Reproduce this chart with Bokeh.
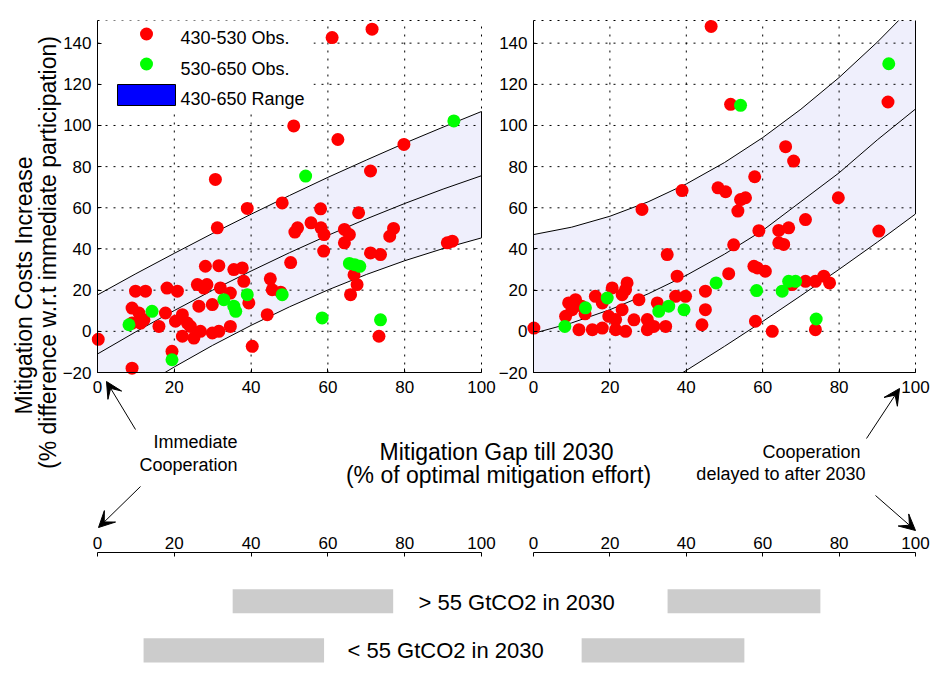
import numpy as np
from bokeh.plotting import figure
from bokeh.models import (Range1d, LinearAxis, FixedTicker, Label, Arrow, VeeHead)
from bokeh.embed import file_html
from bokeh.resources import INLINE

# ---------------- data ----------------
x_ticks = [0, 20, 40, 60, 80, 100]
y_ticks = [-20, 0, 20, 40, 60, 80, 100, 120, 140]
y_bottom, y_top = -20, 151

band_x = [0, 10, 20, 30, 40, 50, 60, 70, 80, 90, 100]
left_upper = [17.7, 28.0, 37.9, 47.6, 56.9, 66.0, 74.8, 83.2, 91.4, 99.2, 106.8]
left_mid = [-11.0, -0.2, 10.1, 20.0, 29.3, 38.2, 46.6, 54.6, 62.1, 69.1, 75.6]
left_lower = [-40.6, -28.5, -17.3, -6.8, 2.9, 11.9, 20.1, 27.6, 34.3, 40.2, 45.4]
right_upper = [47.0, 50.6, 55.9, 62.9, 71.6, 82.0, 94.1, 107.9, 123.3, 140.5, 159.3]
right_mid = [-1.0, 4.1, 10.5, 18.2, 27.2, 37.5, 49.0, 63.0, 77.0, 93.0, 108.0]
right_lower = [-62.0, -51.8, -41.3, -30.3, -19.0, -7.3, 4.8, 17.3, 30.1, 43.3, 57.0]

left_red = [
    (0.2, -3.9), (9.0, -17.9), (19.4, -9.7), (9.0, 4.0), (9.0, 11.3), (10.8, 8.9), (12.1, 5.6), (11.2, 4.0),
    (9.9, 19.5), (12.5, 19.5), (16.0, 2.4), (17.7, 8.9), (20.3, 4.9), (22.1, 8.1), (23.4, 4.0), (24.2, 2.4),
    (22.1, -2.4), (25.1, -3.3), (26.8, 0.0), (29.9, -0.8), (31.6, 0.0), (34.6, 2.4), (18.1, 21.0), (20.8, 19.5),
    (26.0, 22.7), (27.7, 21.0), (28.5, 22.7), (26.4, 12.2), (29.9, 13.0), (28.1, 31.6), (31.6, 31.9), (35.5, 30.0),
    (37.7, 30.8), (38.1, 24.3), (32.0, 21.1), (34.6, 18.6), (39.4, 13.8), (40.3, -7.3), (44.2, 8.1), (45.0, 25.5),
    (45.5, 20.2), (47.7, 19.0), (50.3, 33.4), (48.1, 62.4), (39.0, 59.7), (31.2, 50.3), (30.7, 73.8), (51.1, 99.8),
    (61.1, 142.7), (71.5, 146.8), (62.6, 93.2), (79.8, 90.8), (71.1, 77.9), (58.1, 59.5), (68.0, 57.6), (52.1, 50.3),
    (51.4, 48.2), (55.6, 52.7), (58.2, 50.3), (59.0, 47.0), (64.3, 49.5), (65.6, 47.0), (64.3, 43.0), (76.1, 46.2),
    (77.1, 50.0), (58.9, 39.0), (71.1, 38.1), (73.7, 37.3), (91.1, 43.0), (92.4, 43.8), (66.8, 27.5), (67.6, 22.7),
    (65.9, 17.8), (73.3, -2.4),
]
left_green = [
    (8.2, 3.2), (14.2, 9.7), (19.4, -13.8), (32.9, 15.4), (35.5, 12.2), (36.0, 9.7), (39.0, 17.8), (48.1, 17.8),
    (54.2, 75.4), (58.5, 6.5), (65.6, 33.0), (67.0, 32.4), (68.3, 31.6), (73.7, 5.6), (92.8, 102.2),
]
right_red = [
    (0.1, 1.6), (8.4, 7.3), (9.2, 13.8), (10.1, 10.5), (11.0, 15.4), (11.9, 0.8), (15.4, 0.8), (16.2, 17.0),
    (18.0, 1.6), (18.0, 13.8), (19.7, 7.3), (20.6, 21.1), (21.5, 5.7), (21.5, 0.8), (23.2, 17.8), (23.2, 10.5),
    (24.1, 20.3), (24.5, 23.5), (24.1, 0.0), (26.3, 5.6), (27.6, 15.4), (28.4, 59.2), (29.8, 5.7), (29.8, 0.8),
    (31.5, 2.4), (32.4, 13.8), (34.6, 2.4), (35.0, 37.3), (37.6, 26.8), (37.2, 17.0), (38.9, 68.4), (39.8, 17.0),
    (45.0, 19.5), (45.0, 10.5), (44.1, 3.2), (46.5, 148.1), (48.3, 69.7), (50.3, 67.8), (51.1, 28.0), (51.6, 110.3),
    (52.4, 42.0), (53.5, 58.4), (54.2, 64.0), (55.5, 64.9), (57.9, 75.1), (59.0, 48.9), (58.6, 30.8), (60.7, 29.2),
    (57.7, 31.6), (58.1, 4.9), (62.5, 0.0), (64.2, 49.0), (66.8, 50.3), (64.2, 43.0), (65.5, 42.2), (66.0, 89.7),
    (68.1, 82.7), (71.2, 54.3), (67.7, 22.7), (71.2, 24.3), (73.8, 24.3), (76.0, 26.8), (77.5, 23.5), (73.8, 0.8),
    (79.8, 64.9), (90.4, 48.7), (92.8, 111.4), (12.6, 12.2), (13.5, 8.5),
]
right_green = [
    (8.2, 2.4), (13.6, 11.4), (19.3, 16.2), (32.8, 9.7), (35.4, 12.2), (39.4, 10.5), (47.8, 23.5), (58.4, 19.8),
    (65.1, 19.5), (66.8, 24.3), (68.6, 24.3), (74.0, 6.0), (54.2, 109.8), (93.0, 130.0),
]

legend_labels = ["430-530 Obs.", "530-650 Obs.", "430-650 Range"]
y_title = ["Mitigation Costs Increase", "(% difference w.r.t immediate participation)"]
x_title = ["Mitigation Gap till 2030", "(% of optimal mitigation effort)"]
gap_labels = ["> 55 GtCO2 in 2030", "< 55 GtCO2 in 2030"]
# mitigation-gap ranges shown as grey bars (left lower axis / right lower axis)
gap_left_lo = [35.2, 12.0]
gap_left_hi = [77.0, 59.0]
gap_right_lo = [35.1, 12.6]
gap_right_hi = [75.1, 55.2]

# ---------------- layout constants (pixels) ----------------
W, H = 930, 693
FT, FB = 20, 372            # panel top / bottom (y pixel)
L0, L100 = 97, 481          # left panel x=0 / x=100
R0, R100 = 533, 915         # right panel x=0 / x=100
AX2_Y = 551.5               # lower axes line
FONT = "Liberation Sans"
RED, GREEN = "#ff0000", "#00ff00"
BAND = "#efeffc"

sxL = (L100 - L0) / 100.0
sxR = (R100 - R0) / 100.0
sy = (FB - FT) / float(y_top - y_bottom)

p = figure(width=W, height=H, output_backend="svg", toolbar_location=None,
           x_range=Range1d(-L0 / sxL, (W - L0) / sxL),
           y_range=Range1d(y_bottom - (H - FB) / sy, y_top + FT / sy),
           x_axis_location=None, y_axis_location=None,
           min_border_left=0, min_border_right=0, min_border_top=0, min_border_bottom=0)
p.extra_x_ranges = {"right": Range1d(-R0 / sxR, (W - R0) / sxR), "px": Range1d(0, W)}
p.extra_y_ranges = {"px": Range1d(H, 0)}
p.grid.visible = False
p.outline_line_color = None
p.background_fill_color = "white"
p.border_fill_color = "white"

dot = dict(line_color="black", line_width=1, line_dash="2 6")


def clip_curve(xs, ys, lo, hi):
    """Insert the crossing points with the axis limits; return x, clamped y, masked y."""
    ox, oy = [xs[0]], [ys[0]]
    for i in range(1, len(xs)):
        x0, y0, x1, y1 = xs[i - 1], ys[i - 1], xs[i], ys[i]
        cross = []
        for b in (lo, hi):
            if (y0 - b) * (y1 - b) < 0:
                t = (b - y0) / (y1 - y0)
                cross.append((t, x0 + t * (x1 - x0), b))
        for t, cx, cy in sorted(cross):
            ox.append(cx)
            oy.append(cy)
        ox.append(x1)
        oy.append(y1)
    ox = np.array(ox, dtype=float)
    oy = np.array(oy, dtype=float)
    clamped = np.clip(oy, lo, hi)
    masked = np.where((oy < lo - 1e-9) | (oy > hi + 1e-9), np.nan, oy)
    return ox, clamped, masked


panels = [
    ("default", left_upper, left_mid, left_lower, left_red, left_green),
    ("right", right_upper, right_mid, right_lower, right_red, right_green),
]
for xr, up, mid, low, reds, greens in panels:
    ux, uc, um = clip_curve(band_x, up, y_bottom, y_top)
    lx, lc, lm = clip_curve(band_x, low, y_bottom, y_top)
    mx, mc, mm = clip_curve(band_x, mid, y_bottom, y_top)
    p.patch(list(ux) + list(lx[::-1]), list(uc) + list(lc[::-1]), fill_color=BAND,
            line_color=None, x_range_name=xr)
    vx = [t for t in x_ticks if t > 0]
    p.segment(x0=vx, y0=[y_bottom] * len(vx), x1=vx, y1=[y_top] * len(vx), x_range_name=xr, **dot)
    hy = y_ticks + [y_top]
    p.segment(x0=[0] * len(hy), y0=hy, x1=[100] * len(hy), y1=hy, x_range_name=xr, **dot)
    p.line(ux, um, line_color="black", line_width=1, x_range_name=xr)
    p.line(lx, lm, line_color="black", line_width=1, x_range_name=xr)
    p.line(mx, mm, line_color="black", line_width=1, x_range_name=xr)
    p.segment(x0=[band_x[-1]], y0=[lc[-1]], x1=[band_x[-1]], y1=[uc[-1]],
              line_color="black", line_width=1, x_range_name=xr)
    p.scatter([a for a, b in reds], [b for a, b in reds], size=13, fill_color=RED,
              line_color=None, x_range_name=xr)
    p.scatter([a for a, b in greens], [b for a, b in greens], size=13, fill_color=GREEN,
              line_color=None, x_range_name=xr)


def axis(ticks, standoff, **kw):
    ax = LinearAxis(ticker=FixedTicker(ticks=ticks), **kw)
    ax.axis_line_color = "black"
    ax.axis_line_width = 1
    ax.major_tick_line_color = "black"
    ax.major_tick_in = 4
    ax.major_tick_out = 0
    ax.minor_tick_line_color = None
    ax.major_label_standoff = standoff
    ax.major_label_text_font = FONT
    ax.major_label_text_font_size = "17px"
    ax.major_label_text_color = "black"
    return ax


p.add_layout(axis(y_ticks, 6, fixed_location=0, bounds=(y_bottom, y_top)), "left")
p.add_layout(axis(y_ticks, 6, fixed_location=0, bounds=(y_bottom, y_top), x_range_name="right"), "left")
p.add_layout(axis(x_ticks, 8, fixed_location=y_bottom, bounds=(0, 100)), "below")
p.add_layout(axis(x_ticks, 8, fixed_location=y_bottom, bounds=(0, 100), x_range_name="right"), "below")
p.add_layout(axis(x_ticks, 3, fixed_location=AX2_Y, bounds=(0, 100), y_range_name="px"), "above")
p.add_layout(axis(x_ticks, 3, fixed_location=AX2_Y, bounds=(0, 100), x_range_name="right",
                  y_range_name="px"), "above")

# grey bars on the lower axes (mitigation-gap ranges)
bar_rows = [(588.7, 612.7), (637.7, 662.0)]
for i, (tp, bt) in enumerate(bar_rows):
    p.quad(left=[gap_left_lo[i]], right=[gap_left_hi[i]], top=[tp], bottom=[bt],
           y_range_name="px", fill_color="#cccccc", line_color=None)
    p.quad(left=[gap_right_lo[i]], right=[gap_right_hi[i]], top=[tp], bottom=[bt],
           x_range_name="right", y_range_name="px", fill_color="#cccccc", line_color=None)

# legend (drawn in pixel space)
p.quad(left=[100], right=[313], top=[FT], bottom=[113], fill_color="white", line_color=None,
       x_range_name="px", y_range_name="px")
p.scatter([146], [33.5], size=13, fill_color=RED, line_color=None, x_range_name="px", y_range_name="px")
p.scatter([146], [63.5], size=13, fill_color=GREEN, line_color=None, x_range_name="px", y_range_name="px")
p.quad(left=[117], right=[175], top=[84], bottom=[105], fill_color="#0000ff", line_color="black",
       x_range_name="px", y_range_name="px")


def lab(text, x, y, size, align="left", angle=0.0):
    p.add_layout(Label(x=x, y=y, text=text, x_range_name="px", y_range_name="px",
                       text_font=FONT, text_font_size=size, text_color="black",
                       text_align=align, text_baseline="middle", angle=angle))


for t, yc in zip(legend_labels, [37.3, 68.3, 98.3]):
    lab(t, 180, yc, "18px")

lab(y_title[0], 23, 285, "23px", align="center", angle=np.pi / 2)
lab(y_title[1], 47, 252, "23px", align="center", angle=np.pi / 2)
lab(x_title[0], 496, 451.7, "23px", align="center")
lab(x_title[1], 498, 474.7, "23px", align="center")
lab("Immediate", 237, 441.7, "18px", align="right")
lab("Cooperation", 237, 464.5, "18px", align="right")
lab("Cooperation", 860, 451.7, "18px", align="right")
lab("delayed to after 2030", 865, 473.5, "18px", align="right")
lab(gap_labels[0], 418, 601.5, "22px")
lab(gap_labels[1], 347, 650, "22px")

# arrows
for (x0, y0, x1, y1) in [(135, 429, 106, 381), (140, 486, 98, 527),
                         (866, 438, 899, 388), (875, 495, 915, 530)]:
    p.add_layout(Arrow(end=VeeHead(size=16, fill_color="black", line_color="black"),
                       x_start=x0, y_start=y0, x_end=x1, y_end=y1,
                       x_range_name="px", y_range_name="px", line_color="black", line_width=1))

open("out.html", "w").write(file_html(p, INLINE))
